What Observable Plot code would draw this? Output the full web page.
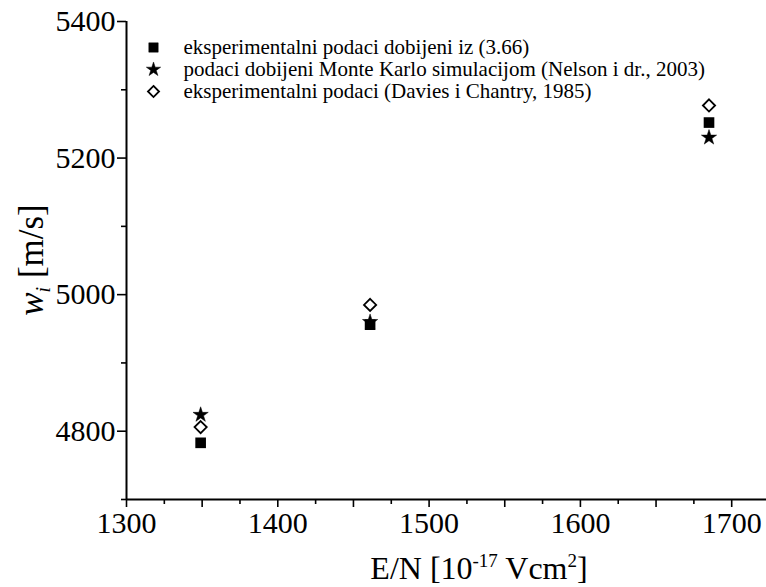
<!DOCTYPE html>
<html><head><meta charset="utf-8">
<script src="https://cdn.jsdelivr.net/npm/d3@7"></script>
<script src="https://cdn.jsdelivr.net/npm/@observablehq/plot@0.6"></script>
<style>
body{margin:0;background:#fff}
#chart svg{display:block}
</style>
</head><body><div id="chart"></div>
<script>
// Data
const seriesNames = [
  "eksperimentalni podaci dobijeni iz (3.66)",
  "podaci dobijeni Monte Karlo simulacijom (Nelson i dr., 2003)",
  "eksperimentalni podaci (Davies i Chantry, 1985)"
];
const seriesSymbols = ["square", "star", "diamond2"];
const fieldEN = [1349, 1461, 1685];          // E/N [10^-17 Vcm^2]
const wEquation = [4783, 4956, 5252];        // squares
const wMonteCarlo = [4824, 4960, 5230];      // stars
const wDavies = [4806, 4985, 5277];          // diamonds
const xTickLabels = [1300, 1400, 1500, 1600, 1700];
const yTickLabels = [4800, 5000, 5200, 5400];

const rows = (ys, s) => fieldEN.map((x, i) => ({x, y: ys[i], s}));
const dEq = rows(wEquation, 0), dMC = rows(wMonteCarlo, 1), dDC = rows(wDavies, 2);

const font = "'Liberation Serif', 'Times New Roman', serif";
const xMajor = d3.range(1300, 1724, 50), xMinor = d3.range(1325, 1724, 50);
const yMajor = d3.range(4800, 5401, 200), yMinor = d3.range(4700, 5401, 200);

const legend = seriesNames.flatMap((name, i) => {
  const sym = seriesSymbols[i];
  return [
    Plot.dot([name], {frameAnchor: "top-left", dx: 27, dy: 26 + 22 * i, symbol: () => sym,
      r: sym === "star" ? 4.5 : sym === "square" ? 5.3 : 5,
      fill: sym === "diamond2" ? "white" : "black", stroke: "black", strokeWidth: sym === "diamond2" ? 1.8 : 0.5}),
    Plot.text([name], {frameAnchor: "top-left", dx: 57, dy: 26 + 22 * i, text: d => d,
      textAnchor: "start", lineAnchor: "middle", fontSize: 21, fill: "black"})
  ];
});

const chart = Plot.plot({
  width: 766, height: 587,
  marginLeft: 126, marginRight: 0, marginTop: 21, marginBottom: 88,
  style: {fontFamily: font, color: "black", background: "white"},
  x: {domain: [1300, 1723]},
  y: {domain: [4700, 5400]},
  marks: [
    Plot.axisX({ticks: xMinor, tickSize: 5, tickFormat: () => "", strokeWidth: 1.6, label: null}),
    Plot.axisX({ticks: xMajor, tickSize: 8, tickPadding: 4, strokeWidth: 1.6, label: null,
      tickFormat: d => xTickLabels.includes(d) ? String(d) : "", fontSize: 30}),
    Plot.axisY({ticks: yMinor, tickSize: 5, tickFormat: () => "", strokeWidth: 1.6, label: null}),
    Plot.axisY({ticks: yMajor, tickSize: 9, tickPadding: 2, strokeWidth: 1.6, label: null,
      tickFormat: d => yTickLabels.includes(d) ? String(d) : "", fontSize: 30}),
    Plot.ruleY([4700], {stroke: "black", strokeWidth: 2}),
    Plot.ruleX([1300], {stroke: "black", strokeWidth: 2}),
    Plot.dot(dMC, {x: "x", y: "y", symbol: () => "star", r: 4.8, fill: "black", stroke: "black", strokeWidth: 0.5}),
    Plot.dot(dEq, {x: "x", y: "y", symbol: () => "square", r: 6.0, fill: "black"}),
    Plot.dot(dDC, {x: "x", y: "y", symbol: () => "diamond2", r: 5.5, fill: "white", stroke: "black", strokeWidth: 1.8}),
    ...legend
  ]
});
document.getElementById("chart").appendChild(chart);

// Axis titles with sub/superscripts
const svg = d3.select(chart);
const xs = chart.scale("x"), ys = chart.scale("y");
const xt = svg.append("text")
  .attr("x", (xs.apply(1300) + 832) / 2).attr("y", 579)
  .attr("text-anchor", "middle").attr("font-size", 32).attr("fill", "black");
xt.append("tspan").text("E/N [10");
xt.append("tspan").attr("dy", -12).attr("font-size", 19).text("-17");
xt.append("tspan").attr("dy", 12).text(" Vcm");
xt.append("tspan").attr("dy", -12).attr("font-size", 19).text("2");
xt.append("tspan").attr("dy", 12).text("]");

const yc = (ys.apply(4700) + ys.apply(5400)) / 2;
const yt = svg.append("text")
  .attr("transform", `translate(43,${yc}) rotate(-90)`)
  .attr("text-anchor", "middle").attr("font-size", 35).attr("fill", "black");
yt.append("tspan").attr("font-style", "italic").text("w");
yt.append("tspan").attr("font-style", "italic").attr("font-size", 20).attr("dy", 7).text("i");
yt.append("tspan").attr("dy", -7).text(" [m/s]");

svg.selectAll("text, tspan").style("font-family", font);
</script>
</body></html>
